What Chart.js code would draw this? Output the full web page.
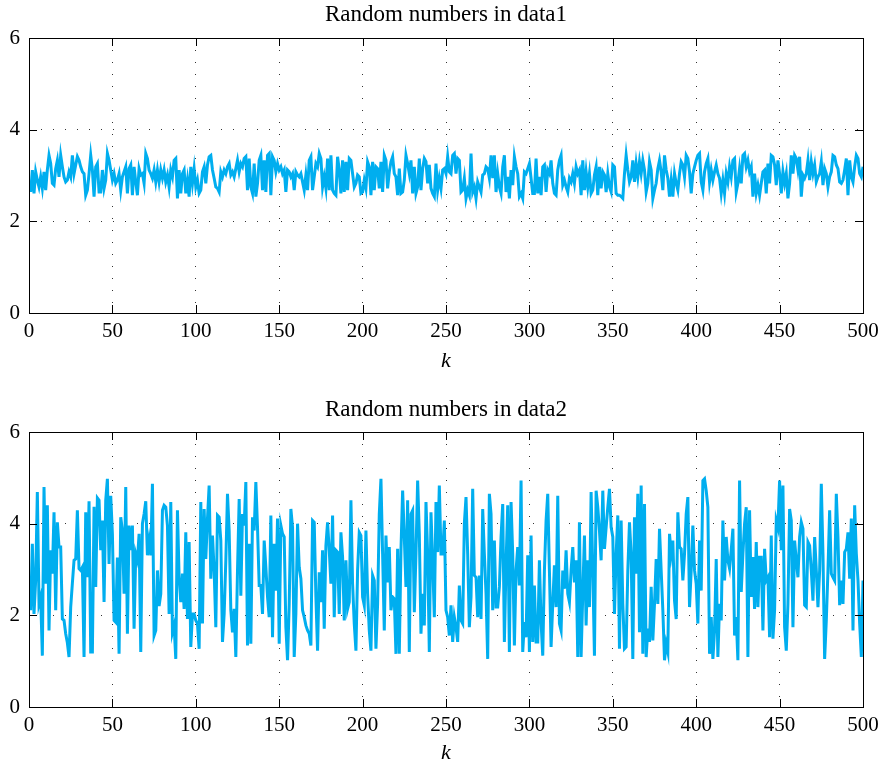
<!DOCTYPE html>
<html>
<head>
<meta charset="utf-8">
<script src="https://cdn.jsdelivr.net/npm/chart.js@4.4.0/dist/chart.umd.min.js"></script>
<style>
  html, body { margin: 0; padding: 0; background: #fff; }
  #wrap { position: relative; width: 888px; height: 765px; overflow: hidden; }
  .panel { position: absolute; left: 0; width: 888px; }
  canvas { display: block; }
</style>
</head>
<body>
<div id="wrap">
  <div class="panel" style="top:0"><canvas id="chart1" width="888" height="392"></canvas></div>
  <div class="panel" style="top:392px"><canvas id="chart2" width="888" height="373"></canvas></div>
</div>
<script>
// Sample values, k = 1..500
const data1 = [
  2.64, 3.12, 2.61, 3.08, 2.90, 2.75, 2.97, 2.72, 3.08, 2.68, 3.12, 3.44, 3.26, 2.83, 2.79, 3.15, 3.33, 2.97, 3.44, 3.19,
  2.97, 2.86, 2.90, 3.08, 2.97, 3.44, 3.04, 3.23, 3.41, 3.33, 3.19, 3.08, 3.04, 2.57, 2.68, 3.04, 3.44, 3.12, 2.54, 3.19,
  3.26, 2.64, 2.64, 3.12, 2.72, 2.90, 3.48, 3.33, 3.12, 2.90, 3.04, 2.83, 2.90, 3.04, 2.68, 2.97, 3.08, 3.19, 2.61, 3.15,
  3.23, 2.57, 3.19, 2.86, 2.57, 3.15, 3.01, 3.04, 2.83, 3.48, 3.37, 3.12, 3.04, 2.94, 3.12, 2.86, 3.12, 2.86, 3.12, 2.94,
  3.12, 2.86, 3.01,
  2.75, 3.12, 2.97, 3.33, 3.37, 2.50, 3.12, 2.61, 3.04, 3.12, 2.61, 2.90, 2.54, 3.19, 2.83, 3.15, 2.75, 2.90, 2.61, 2.68,
  3.08, 3.19, 2.83, 3.23, 3.41, 3.44, 3.12, 2.94, 2.75, 2.72, 2.64, 3.08, 2.97, 3.12, 3.04, 3.19, 3.26, 3.01, 3.08, 2.97,
  3.15, 3.33, 3.08, 3.26, 3.19, 3.37, 3.41, 2.68, 3.37, 2.75, 2.61, 3.26, 2.54, 2.83, 3.33, 3.44, 2.68, 3.33, 2.64, 3.44,
  3.48, 2.57, 3.41, 3.33, 3.08, 3.26, 3.12, 3.19, 3.04, 3.12, 2.64, 3.12, 3.08, 2.97, 3.04, 2.68, 3.08, 3.01, 2.97, 3.04,
  2.86, 2.68, 3.01,
  2.68, 3.33, 3.41, 2.68, 2.97, 3.26, 3.19, 3.48, 3.37, 2.75, 2.97, 2.72, 3.37, 2.68, 3.44, 2.68, 2.61, 2.57, 3.41, 3.12,
  2.61, 3.33, 2.64, 3.30, 2.68, 3.37, 3.33, 3.04, 2.75, 2.83, 3.01, 2.97, 2.61, 2.64, 2.90, 2.72, 3.30, 3.19, 2.57, 3.30,
  2.68, 3.19, 3.15, 2.72, 3.30, 2.64, 3.44, 3.33, 2.72, 3.08, 3.30, 3.41, 3.04, 2.97, 2.57, 3.15, 2.61, 2.64, 2.90, 3.44,
  3.26, 3.04, 3.33, 2.61, 3.19, 2.61, 2.75, 3.37, 2.68, 3.15, 3.37, 3.30, 2.83, 3.23, 2.72, 2.61, 2.54, 3.26, 2.68, 2.94,
  2.72, 3.12, 3.15,
  3.04, 3.41, 3.08, 3.04, 3.44, 3.48, 3.04, 3.37, 3.33, 2.64, 2.68, 2.94, 2.50, 2.68, 2.57, 3.48, 2.64, 2.75, 2.50, 2.86,
  2.75, 2.64, 3.01, 3.04, 3.19, 3.15, 2.94, 3.44, 2.94, 3.44, 2.64, 3.04, 2.75, 2.61, 3.19, 3.44, 2.64, 2.97, 2.50, 3.12,
  2.79, 3.41, 3.19, 3.04, 2.54, 2.61, 2.50, 3.08, 3.04, 3.15, 3.26, 2.94, 2.61, 2.61, 3.37, 2.61, 2.97, 2.57, 3.19, 3.23,
  2.64, 3.12, 3.04, 3.33, 2.83, 2.61, 2.57, 3.12, 3.33, 3.44, 2.79, 2.90, 2.75, 2.64, 2.94, 2.86, 3.04, 2.83, 3.19, 3.04,
  3.12, 2.57, 3.33,
  2.68, 3.08, 2.75, 3.04, 2.61, 2.68, 3.01, 3.19, 2.57, 3.19, 2.72, 3.08, 3.01, 2.64, 3.04, 2.75, 2.64, 3.23, 3.19, 2.61,
  2.57, 2.57, 2.54, 2.50, 3.04, 3.44, 3.12, 2.86, 2.97, 3.33, 2.86, 3.26, 2.97, 3.30, 3.04, 3.33, 3.12, 2.64, 2.83, 3.30,
  3.12, 2.50, 2.68, 2.83, 3.15, 3.33, 3.08, 2.68, 3.44, 3.12, 2.94, 2.54, 2.90, 2.54, 3.04, 2.83, 2.68, 3.04, 3.30, 3.23,
  2.97, 3.44, 3.37, 3.08, 2.61, 3.04, 3.19, 3.33, 3.44, 3.48, 2.86, 2.68, 3.08, 3.26, 3.37, 2.86, 3.12, 2.90, 3.08, 3.23,
  3.04, 2.94, 2.61,
  2.90, 2.61, 3.04, 2.86, 3.19, 2.97, 3.33, 3.37, 2.64, 2.83, 3.15, 2.83, 3.44, 3.48, 3.19, 3.33, 3.08, 3.19, 2.54, 3.04,
  2.61, 2.79, 2.57, 2.83, 3.08, 3.12, 2.61, 3.26, 2.83, 3.44, 3.41, 3.23, 2.79, 3.33, 3.04, 2.61, 3.08, 2.83, 3.04, 2.50,
  2.83, 3.44, 3.04, 3.44, 3.37, 3.12, 3.41, 2.54, 3.01, 2.94, 3.04, 3.33, 2.90, 3.30, 3.04, 3.23, 2.86, 2.97, 3.04, 3.30,
  2.79, 3.15, 3.04, 2.75, 2.97, 3.08, 3.44, 3.41, 3.23, 3.15, 2.86, 2.83, 2.90, 3.12, 3.37, 2.57, 3.33, 2.97, 2.86, 3.19,
  3.44, 3.37, 3.04, 2.97, 3.19
];

const data2 = [
  2.11, 3.56, 2.03, 2.76, 4.69, 2.25, 2.40, 1.12, 4.80, 2.69, 4.40, 1.67, 3.42, 2.91, 4.25, 2.11, 4.03, 3.49, 3.49, 1.92,
  1.89, 1.60, 1.40, 1.09, 2.18, 2.70, 3.20, 3.23, 4.29, 3.02, 2.98, 3.05, 1.09, 4.25, 2.83, 4.49, 1.20, 1.20, 4.37, 2.62,
  4.56, 4.51, 3.42, 4.07, 2.29, 4.51, 4.98, 3.12, 4.61, 3.78, 1.89, 1.85, 3.26, 1.16, 4.14, 3.85, 2.47, 4.80, 1.60, 3.96,
  3.42, 3.96, 1.71, 3.34, 3.20, 3.78, 1.20, 4.00, 4.21, 4.49, 3.31, 3.63, 3.31, 4.87, 1.56, 1.67, 2.98, 2.20, 2.47, 4.29,
  4.40,
  4.36, 3.96, 2.03, 4.47, 1.63, 1.78, 1.05, 4.29, 2.83, 2.29, 2.91, 2.14, 3.81, 1.92, 3.60, 1.31, 2.03, 2.03, 1.89, 1.82,
  1.27, 4.47, 1.82, 4.32, 3.23, 4.11, 4.83, 2.80, 3.74, 2.98, 1.74, 4.18, 4.14, 3.63, 1.42, 2.03, 3.20, 4.65, 3.85, 2.11,
  1.63, 2.14, 1.09, 2.98, 4.54, 2.43, 4.21, 3.96, 4.91, 1.34, 3.56, 1.38, 4.14, 3.85, 4.91, 3.92, 2.65, 2.65, 2.03, 3.63,
  3.05, 2.40, 1.96, 4.18, 1.52, 3.56, 2.54, 4.11, 1.38, 3.96, 3.78, 3.71, 1.74, 1.02, 2.25, 4.32, 3.92, 1.09, 2.03, 4.00,
  3.05, 2.80, 2.11,
  1.96, 1.78, 1.67, 1.60, 1.34, 4.07, 4.03, 2.40, 1.23, 2.94, 2.29, 3.42, 1.71, 3.52, 4.03, 3.42, 2.69, 4.18, 1.96, 3.42,
  3.38, 2.03, 3.81, 3.27, 1.89, 3.20, 2.14, 2.29, 4.51, 2.69, 1.82, 1.23, 2.98, 3.81, 3.74, 2.40, 2.22, 3.85, 2.47, 1.67,
  1.23, 2.87, 2.76, 1.27, 2.25, 4.21, 4.98, 3.34, 1.67, 3.74, 2.72, 3.49, 2.11, 2.40, 2.36, 1.16, 3.45, 1.16, 3.42, 4.72,
  3.71, 2.62, 4.51, 1.20, 4.21, 4.29, 2.07, 3.34, 4.94, 3.78, 1.60, 2.47, 1.78, 4.47, 3.34, 1.20, 4.25, 3.20, 1.96, 4.47,
  3.38, 4.83, 3.34,
  3.34, 4.07, 2.11, 1.96, 1.56, 2.22, 1.42, 1.96, 1.74, 1.42, 2.65, 1.89, 1.82, 4.00, 4.58, 3.34, 1.74, 2.40, 4.76, 2.87,
  2.83, 1.96, 2.87, 1.92, 4.32, 3.34, 2.47, 1.05, 4.65, 4.21, 2.11, 3.63, 2.18, 2.18, 2.62, 3.71, 4.43, 1.42, 3.12, 4.40,
  1.20, 4.47, 3.34, 1.34, 2.98, 3.49, 2.65, 4.94, 1.20, 1.85, 1.52, 3.31, 1.20, 3.74, 1.42, 2.65, 1.42, 1.42, 3.20, 1.85,
  1.12, 2.98, 4.07, 4.65, 2.98, 1.31, 2.25, 3.09, 2.18, 4.61, 1.82, 1.67, 2.98, 2.58, 3.42, 2.47, 2.29, 2.98, 3.49, 2.72,
  3.20, 1.09, 4.03,
  1.09, 2.47, 3.74, 1.78, 3.20, 2.18, 4.69, 2.98, 1.12, 4.72, 4.36, 3.85, 3.20, 4.72, 3.45, 3.92, 4.36, 4.76, 3.92, 3.71,
  2.03, 3.34, 4.18, 1.27, 4.07, 2.25, 1.27, 1.31, 2.98, 4.03, 3.34, 1.05, 4.14, 2.91, 4.65, 1.63, 4.83, 1.16, 4.43, 1.09,
  1.71, 1.42, 2.62, 1.45, 2.25, 3.23, 2.25, 3.89, 2.98, 2.11, 1.02, 1.38, 1.20, 3.78, 3.34, 3.63, 2.32, 1.92, 4.25, 3.49,
  3.45, 2.76, 3.34, 4.21, 4.58, 2.18, 2.98, 3.96, 2.98, 2.69, 1.82, 3.63, 2.54, 4.94, 4.98, 4.72, 4.36, 1.16, 1.96, 1.05,
  1.67, 3.23, 1.09, 2.25,
  1.89, 4.07, 2.76, 3.71, 3.20, 3.02, 3.42, 3.89, 1.56, 1.96, 1.02, 4.94, 2.51, 3.34, 4.00, 4.36, 1.09, 4.29, 2.40, 3.27,
  2.14, 3.60, 2.18, 3.27, 3.27, 1.67, 3.45, 2.76, 2.83, 1.52, 3.74, 1.49, 2.11, 4.07, 3.92, 4.94, 3.42, 4.83, 1.74, 1.23,
  2.25, 4.32, 4.07, 1.74, 3.63, 3.20, 2.83, 3.71, 4.03, 3.89, 2.22, 2.18, 3.60, 3.52, 2.98, 2.32, 3.71, 2.98, 2.18, 2.98,
  4.87, 3.34, 1.05, 1.89, 2.98, 4.29, 2.91, 2.83, 2.76, 4.65, 3.71, 2.22, 2.76, 2.25, 3.38, 3.45, 3.81, 2.80, 4.11, 1.67,
  4.40, 3.34, 2.76, 1.82, 1.09, 2.76
];

const xTickValues = [0, 50, 100, 150, 200, 250, 300, 350, 400, 450, 500];
const yTickValues = [0, 2, 4, 6];
const panelTitles = ['Random numbers in data1', 'Random numbers in data2'];
const xAxisLabel = 'k';

const LINE_COLOR = '#00AEEF';
const SERIF = "'Liberation Serif', 'Times New Roman', Times, serif";
const FONT_SIZE = 21;
const TITLE_SIZE = 23;

// Solid axes box with short inward tick marks on all four sides
const boxPlugin = {
  id: 'axesBox',
  afterDatasetsDraw(chart) {
    const { ctx, chartArea, scales } = chart;
    const { left, right, top, bottom } = chartArea;
    const tl = 8;
    ctx.save();
    ctx.strokeStyle = '#000';
    ctx.lineWidth = 1;
    ctx.beginPath();
    scales.x.ticks.forEach(t => {
      const px = Math.round(scales.x.getPixelForValue(t.value)) + 0.5;
      ctx.moveTo(px, bottom); ctx.lineTo(px, bottom - tl);
      ctx.moveTo(px, top); ctx.lineTo(px, top + tl);
    });
    scales.y.ticks.forEach(t => {
      const py = Math.round(scales.y.getPixelForValue(t.value)) + 0.5;
      ctx.moveTo(left, py); ctx.lineTo(left + tl, py);
      ctx.moveTo(right, py); ctx.lineTo(right - tl, py);
    });
    ctx.stroke();
    ctx.strokeRect(Math.round(left) + 0.5, Math.round(top) + 0.5,
                   Math.round(right - left), Math.round(bottom - top));
    ctx.restore();
  }
};

function drawPanel(canvasId, values, title, g) {
  const points = values.map((v, i) => ({ x: i + 1, y: v }));
  const gridOpts = { color: '#333', lineWidth: 1, drawTicks: false };
  const borderOpts = { display: false, dash: [1, 11] };
  return new Chart(document.getElementById(canvasId), {
    type: 'line',
    data: {
      datasets: [{
        data: points,
        borderColor: LINE_COLOR,
        borderWidth: 3,
        pointRadius: 0,
        tension: 0,
        fill: false
      }]
    },
    options: {
      responsive: false,
      animation: false,
      devicePixelRatio: 1,
      layout: { padding: { left: 0, right: 25, top: 0, bottom: 0 } },
      plugins: {
        legend: { display: false },
        tooltip: { enabled: false },
        title: {
          display: true,
          fullSize: false,
          text: title,
          color: '#000',
          font: { family: SERIF, size: TITLE_SIZE, weight: 'normal', lineHeight: 1.2 },
          padding: { top: g.titleTop, bottom: g.titleBottom }
        }
      },
      scales: {
        x: {
          type: 'linear',
          min: 0,
          max: 500,
          afterBuildTicks: s => { s.ticks = xTickValues.map(v => ({ value: v })); },
          afterFit: s => { s.height = g.xAxisHeight; },
          ticks: { color: '#000', font: { family: SERIF, size: FONT_SIZE }, padding: g.xTickPad, maxRotation: 0, autoSkip: false },
          grid: gridOpts,
          border: borderOpts,
          title: {
            display: true,
            text: xAxisLabel,
            color: '#000',
            font: { family: SERIF, size: 22, style: 'italic', lineHeight: 1.2 },
            padding: { top: 0, bottom: g.labelPad }
          }
        },
        y: {
          type: 'linear',
          min: 0,
          max: 6,
          afterBuildTicks: s => { s.ticks = yTickValues.map(v => ({ value: v })); },
          afterFit: s => { s.width = 29; },
          ticks: { color: '#000', font: { family: SERIF, size: FONT_SIZE }, padding: 9 },
          grid: gridOpts,
          border: borderOpts
        }
      }
    },
    plugins: [boxPlugin]
  });
}

drawPanel('chart1', data1, panelTitles[0], { titleTop: 1, titleBottom: 9.4, xAxisHeight: 79, xTickPad: 6, labelPad: 18 });
drawPanel('chart2', data2, panelTitles[1], { titleTop: 4, titleBottom: 8.4, xAxisHeight: 58, xTickPad: 6, labelPad: -1 });
</script>
</body>
</html>
